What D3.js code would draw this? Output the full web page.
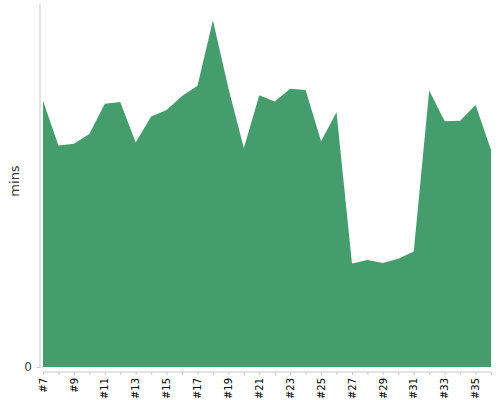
<!DOCTYPE html>
<html><head><meta charset="utf-8">
<script src="https://cdn.jsdelivr.net/npm/d3@7"></script>
<style>body{margin:0;background:#fff}svg{display:block;font-family:"DejaVu Sans",sans-serif}</style>
</head><body><svg id="c" width="500" height="400"></svg>
<script>
const categories = ["#7","#8","#9","#10","#11","#12","#13","#14","#15","#16","#17","#18","#19","#20","#21","#22","#23","#24","#25","#26","#27","#28","#29","#30","#31","#32","#33","#34","#35","#36"];
const minsValues = [44.0,36.6,36.9,38.5,43.5,43.8,37.1,41.4,42.5,44.8,46.5,57.3,46.1,36.2,44.9,43.9,46.0,45.8,37.3,42.1,17.1,17.7,17.2,17.9,19.1,45.7,40.6,40.7,43.3,35.9];
const yTicks = [0];
const yLabel = "mins";

(function(){
const svg = d3.select("#c");
const mL = 43, mR = 491, mT = 4, mB = 367;
const x = d3.scalePoint().domain(categories).range([mL, mR]);
const y = d3.scaleLinear().domain([0, 60]).range([mB, mT]);

const area = d3.area().x((d,i)=>x(categories[i])).y0(y(0)).y1(d=>y(d));
svg.append("path").datum(minsValues).attr("d", area).attr("fill", "#459d6d");

// y axis
const ya = svg.append("g").attr("transform", `translate(${mL-3},0)`)
  .call(d3.axisLeft(y).tickValues(yTicks).tickSize(3).tickPadding(5));
ya.select(".domain").attr("d", `M0,${mT}V${mB+1}`).attr("stroke", "#c8c8c8");
ya.selectAll(".tick line").attr("stroke", "#c8c8c8");
ya.selectAll(".tick text").attr("font-size", 12).attr("fill", "#444").attr("font-family", "DejaVu Sans, sans-serif");

svg.append("text").attr("transform", `translate(19,181) rotate(-90)`)
  .attr("text-anchor", "middle").attr("font-size", 13).attr("fill", "#333").text(yLabel);

// x axis
const xa = svg.append("g").attr("transform", `translate(0,${mB+5})`)
  .call(d3.axisBottom(x).tickSize(3).tickPadding(3).tickFormat((d,i)=> i%2===0 ? d : ""));
xa.select(".domain").attr("d", `M${mL},0H${mR}`).attr("stroke", "#c8c8c8");
xa.selectAll(".tick line").attr("stroke", "#c8c8c8");
xa.selectAll(".tick text").attr("font-size", 10).attr("fill", "#000").attr("font-family", "DejaVu Sans, sans-serif")
  .attr("transform", "rotate(-90)").attr("text-anchor", "end").attr("x", -6).attr("y", 0).attr("dy", "0.32em");
})();
</script></body></html>
